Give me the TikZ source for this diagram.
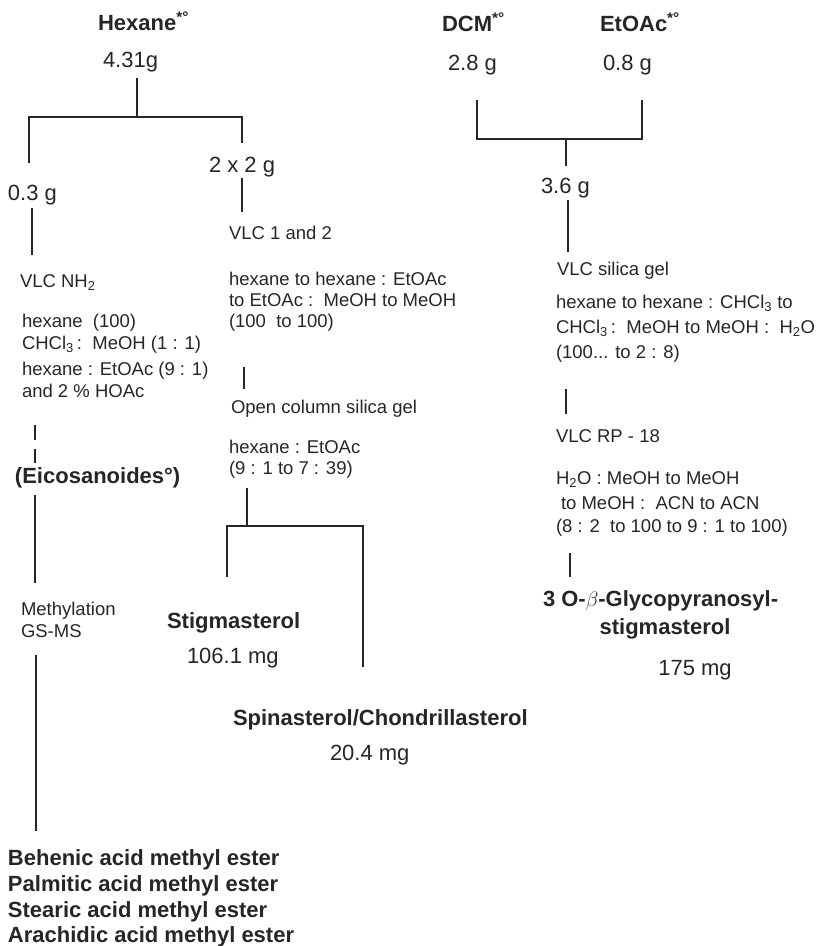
\documentclass[tikz,border=0pt]{standalone}
\usepackage{fontspec}
\setmainfont{Liberation Sans}
\definecolor{ink}{HTML}{262626}
\tikzset{
  base/.style={anchor=base west, inner sep=0pt, outer sep=0pt, text=ink},
  small/.style={base, font=\fontsize{18.5}{22}\selectfont},
  mass/.style={base, font=\fontsize{22}{26}\selectfont},
  hd/.style={base, font=\fontsize{22}{26}\selectfont\bfseries},
  conn/.style={draw=ink, line width=1.4pt},
  brk/.style={conn, dash pattern=on 15pt off 9pt}
}
\begin{document}
\begin{tikzpicture}[x=1pt, y=-1pt]
\path[use as bounding box] (0,0) rectangle (828,946);

% ---------- Hexane branch ----------
\node[hd]   (hex)   at (98,30)  {Hexane\textsuperscript{*°}};
\node[mass] (hexm)  at (103,67) {4.31g};
\node[mass] (m03)   at (8,200)  {0.3 g};
\node[mass] (m22)   at (209,172) {2 x 2 g};

\coordinate (h0) at (137,78);
\coordinate (h1) at (137,117);
\coordinate (hl) at (29,117);
\coordinate (hr) at (242,117);
\coordinate (hl2) at (29,163);
\coordinate (hr2) at (242,143);
\draw[conn] (h0) -- (h1);
\draw[conn] (hl2) -- (hl) -- (hr) -- (hr2);

% left sub-branch
\coordinate (l1a) at (32,208);
\coordinate (l1b) at (32,255);
\draw[conn] (l1a) -- (l1b);
\node[small] (vnh)  at (20,287) {VLC NH\textsubscript{2}};
\node[small] (ls1)  at (22,327) {hexane\ \ (100)};
\node[small] (ls2)  at (22,349) {CHCl\textsubscript{3}\,:\ \ MeOH (1 : 1)};
\node[small] (ls3)  at (22,375) {hexane : EtOAc (9 : 1)};
\node[small] (ls4)  at (22,397) {and 2 \% HOAc};
\coordinate (l2a) at (35,425);
\coordinate (l2b) at (35,463);
\draw[brk] (l2a) -- (l2b);
\node[hd] (eico) at (15,483) {(Eicosanoides°)};
\coordinate (l3a) at (35,495);
\coordinate (l3b) at (35,583);
\draw[conn] (l3a) -- (l3b);
\node[small] (meth) at (21,615) {Methylation};
\node[small] (gsms) at (21,637) {GS-MS};
\coordinate (l4a) at (36,655);
\coordinate (l4b) at (36,831);
\draw[conn] (l4a) -- (l4b);
\node[hd] (fa1) at (8,865) {Behenic acid methyl ester};
\node[hd] (fa2) at (8,891) {Palmitic acid methyl ester};
\node[hd] (fa3) at (8,917) {Stearic acid methyl ester};
\node[hd] (fa4) at (8,942) {Arachidic acid methyl ester};

% middle sub-branch
\coordinate (m1a) at (242,178);
\coordinate (m1b) at (242,212);
\draw[conn] (m1a) -- (m1b);
\node[small] (vlc12) at (229,239) {VLC 1 and 2};
\node[small] (ms1) at (229,285) {hexane to hexane : EtOAc};
\node[small] (ms2) at (229,306) {to EtOAc :\ \ MeOH to MeOH};
\node[small] (ms3) at (229,327) {(100\ \ to 100)};
\coordinate (m2a) at (244,367);
\coordinate (m2b) at (244,389);
\draw[conn] (m2a) -- (m2b);
\node[small] (occ) at (231,413) {Open column silica gel};
\node[small] (ms4) at (229,453) {hexane : EtOAc};
\node[small] (ms5) at (229,474) {(9 : 1 to 7 : 39)};
\coordinate (m3a) at (247,488);
\coordinate (m3b) at (247,526);
\coordinate (m3l) at (227,526);
\coordinate (m3r) at (363,526);
\coordinate (m3l2) at (227,577);
\coordinate (m3r2) at (363,667);
\draw[conn] (m3a) -- (m3b);
\draw[conn] (m3l2) -- (m3l) -- (m3r) -- (m3r2);
\node[hd]   (stig)  at (167,628) {Stigmasterol};
\node[mass] (stigm) at (187,663) {106.1 mg};
\node[hd]   (spin)  at (233,725) {Spinasterol/Chondrillasterol};
\node[mass] (spinm) at (330,760) {20.4 mg};

% ---------- DCM / EtOAc branch ----------
\node[hd]   (dcm)   at (442,31) {DCM\textsuperscript{*°}};
\node[hd]   (eta)   at (600,31) {EtOAc\textsuperscript{*°}};
\node[mass] (dcmm)  at (448,70) {2.8 g};
\node[mass] (etam)  at (603,70) {0.8 g};
\coordinate (r1a) at (477,100);
\coordinate (r1b) at (477,139);
\coordinate (r2a) at (642,100);
\coordinate (r2b) at (642,139);
\coordinate (rc)  at (566,139);
\coordinate (rc2) at (566,166);
\draw[conn] (r1a) -- (r1b) -- (r2b) -- (r2a);
\draw[conn] (rc) -- (rc2);
\node[mass] (m36) at (541,193) {3.6 g};
\coordinate (r3a) at (568,200);
\coordinate (r3b) at (568,252);
\draw[conn] (r3a) -- (r3b);
\node[small] (vsg) at (557,275) {VLC silica gel};
\node[small] (rs1) at (556,308) {hexane to hexane : CHCl\textsubscript{3} to};
\node[small] (rs2) at (556,333) {CHCl\textsubscript{3}\,:\ \ MeOH to MeOH :\ \ H\textsubscript{2}O};
\node[small] (rs3) at (556,358) {(100... to 2 : 8)};
\coordinate (r4a) at (566,389);
\coordinate (r4b) at (566,414);
\draw[conn] (r4a) -- (r4b);
\node[small] (rp18) at (556,442) {VLC RP - 18};
\node[small] (rs4) at (556,484) {H\textsubscript{2}O : MeOH to MeOH};
\node[small] (rs5) at (561,509) {to MeOH :\ \ ACN to ACN};
\node[small] (rs6) at (556,532) {(8 : 2\ \ to 100 to 9 : 1 to 100)};
\coordinate (r5a) at (570,553);
\coordinate (r5b) at (570,577);
\draw[conn] (r5a) -- (r5b);
\node[hd] (gly1) at (543,606) {3 O-$\beta$-Glycopyranosyl-};
\node[hd, anchor=base] (gly2) at (665,634) {stigmasterol};
\node[mass, anchor=base] (glym) at (695,675) {175 mg};
\end{tikzpicture}
\end{document}
